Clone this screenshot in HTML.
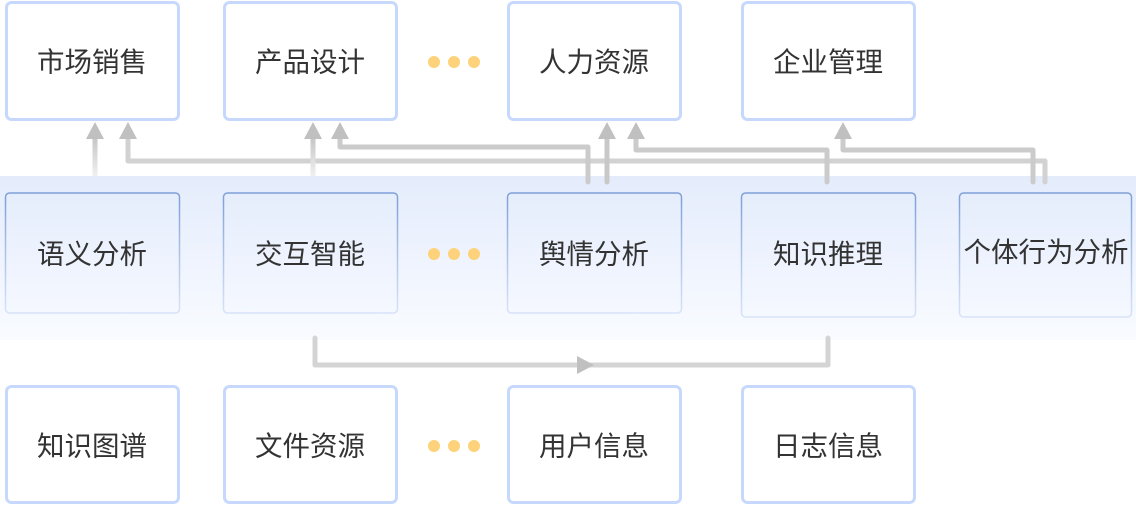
<!DOCTYPE html>
<html><head><meta charset="utf-8"><style>
html,body{margin:0;padding:0;background:#fff;}
svg{display:block}
text{font-family:"Liberation Sans","Noto Sans CJK SC",sans-serif;font-size:27.5px;fill:#333;text-anchor:middle;dominant-baseline:central}
</style></head><body>
<svg width="1136" height="506" viewBox="0 0 1136 506" xmlns="http://www.w3.org/2000/svg">
<defs>
<linearGradient id="band" x1="0" y1="0" x2="0" y2="1">
<stop offset="0" stop-color="#e4ecfc"/><stop offset="1" stop-color="#f9fbff"/>
</linearGradient>
<linearGradient id="mbox" x1="0" y1="0" x2="0" y2="1">
<stop offset="0" stop-color="#e5edfc"/><stop offset="1" stop-color="#f5f8ff"/>
</linearGradient>
<linearGradient id="mstroke" x1="0" y1="0" x2="0" y2="1">
<stop offset="0" stop-color="#7f9fd8"/><stop offset="1" stop-color="#d8e3f8"/>
</linearGradient>
<linearGradient id="fadeup" x1="0" y1="1" x2="0" y2="0">
<stop offset="0" stop-color="#f0f0f0"/><stop offset="1" stop-color="#c4c4c4"/>
</linearGradient>
</defs>
<rect x="0" y="176" width="1136" height="164" fill="url(#band)"/>
<g fill="#fff" stroke="#c6d9fc" stroke-width="3">
<rect x="6.5" y="2.5" width="172" height="117" rx="5"/>
<rect x="224.5" y="2.5" width="172" height="117" rx="5"/>
<rect x="508.5" y="2.5" width="172" height="117" rx="5"/>
<rect x="742.5" y="2.5" width="172" height="117" rx="5"/>
</g>
<g fill="url(#mbox)" stroke="url(#mstroke)" stroke-width="1.5">
<rect x="5.5" y="193" width="174" height="120" rx="4"/>
<rect x="223.5" y="193" width="174" height="120" rx="4"/>
<rect x="507.5" y="193" width="174" height="120" rx="4"/>
<rect x="741.5" y="193" width="174" height="124" rx="4"/>
<rect x="959.5" y="193" width="172" height="124" rx="4"/>
</g>
<g fill="#fff" stroke="#c6d9fc" stroke-width="3">
<rect x="6.5" y="386.5" width="172" height="116" rx="5"/>
<rect x="224.5" y="386.5" width="172" height="116" rx="5"/>
<rect x="508.5" y="386.5" width="172" height="116" rx="5"/>
<rect x="742.5" y="386.5" width="172" height="116" rx="5"/>
</g>
<g fill="none" stroke-width="5" stroke-linecap="round" stroke-linejoin="round">
<path d="M1045 182 V161 H128 V136" stroke="#d2d2d2"/>
<path d="M588 182 V147 H340 V136" stroke="#cbcbcb"/>
<path d="M827 182 V150 H636 V136" stroke="#cbcbcb"/>
<path d="M1033 182 V150 H843 V136" stroke="#cbcbcb"/>
<path d="M607 182 V136" stroke="#c8c8c8"/>
<path d="M315 338 V365 H828 V338" stroke="#d4d4d4"/>
</g>
<rect x="92.5" y="136" width="5" height="40" fill="url(#fadeup)"/>
<rect x="310.5" y="136" width="5" height="40" fill="url(#fadeup)"/>
<g fill="#c0c0c0">
<polygon points="95,122 86,139 104,139"/>
<polygon points="128,122 119,139 137,139"/>
<polygon points="313,122 304,139 322,139"/>
<polygon points="340,122 331,139 349,139"/>
<polygon points="607,122 598,139 616,139"/>
<polygon points="636,122 627,139 645,139"/>
<polygon points="843,122 834,139 852,139"/>
<polygon points="594,365 577,356 577,374"/>
</g>
<g fill="#fdd27a">
<circle cx="434" cy="62" r="6"/><circle cx="454" cy="62" r="6"/><circle cx="474" cy="62" r="6"/>
<circle cx="434" cy="254" r="6"/><circle cx="454" cy="254" r="6"/><circle cx="474" cy="254" r="6"/>
<circle cx="434" cy="446" r="6"/><circle cx="454" cy="446" r="6"/><circle cx="474" cy="446" r="6"/>
</g>
<text x="92" y="62">市场销售</text>
<text x="310" y="62">产品设计</text>
<text x="594" y="62">人力资源</text>
<text x="828" y="62">企业管理</text>
<text x="92" y="254">语义分析</text>
<text x="310" y="254">交互智能</text>
<text x="594" y="254">舆情分析</text>
<text x="828" y="254">知识推理</text>
<text x="1046" y="252">个体行为分析</text>
<text x="92" y="446">知识图谱</text>
<text x="310" y="446">文件资源</text>
<text x="594" y="446">用户信息</text>
<text x="828" y="446">日志信息</text>
</svg>
</body></html>
